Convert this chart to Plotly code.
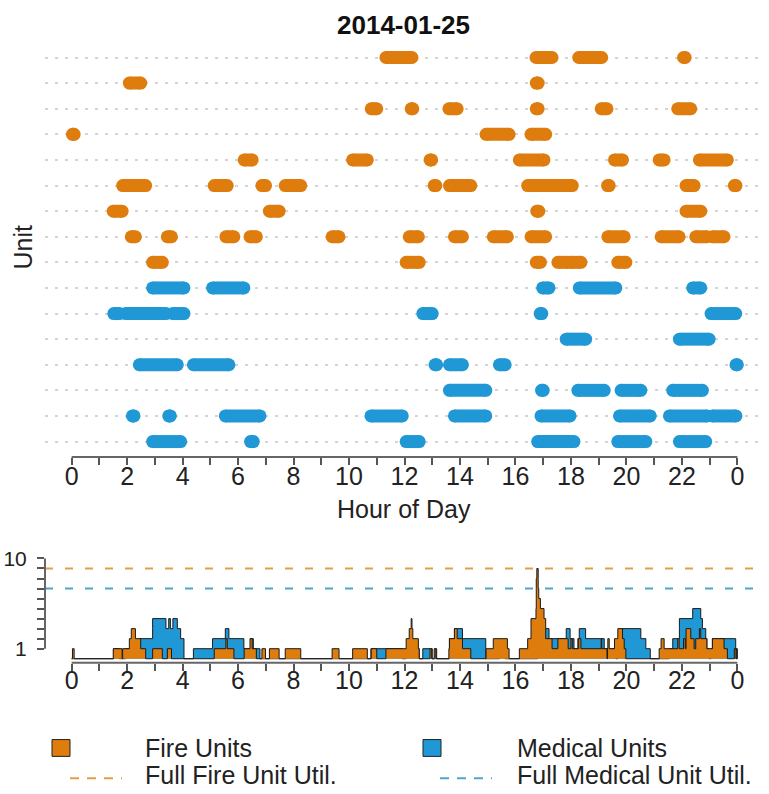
import plotly.graph_objects as go

W, H = 769, 794

# ---------------- data ----------------
hour_ticks = list(range(25))
hour_labels = [str(h % 24) if h % 2 == 0 else "" for h in hour_ticks]
util_ticks = list(range(1, 11))
util_labels = ["1"] + [""] * 8 + ["10"]

# busy intervals (start hour, end hour) per unit, top row first
F1 = [(11.33, 12.27), (16.74, 17.32), (18.28, 19.11), (22.06, 22.12)]
F2 = [(2.08, 2.49), (16.75, 16.82)]
F3 = [(10.80, 11.00), (12.24, 12.30), (13.60, 13.90), (16.75, 16.82), (19.09, 19.30), (21.85, 22.32)]
F4 = [(0.03, 0.09), (14.94, 15.77), (16.56, 17.09)]
F5 = [(6.22, 6.51), (10.13, 10.66), (12.92, 12.98), (16.14, 17.03), (19.57, 19.86), (21.18, 21.36), (22.63, 23.64)]
F6 = [(1.84, 2.67), (5.14, 5.61), (6.86, 6.99), (7.70, 8.26), (13.07, 13.13), (13.62, 14.39),
      (16.44, 18.05), (19.32, 19.38), (22.15, 22.44), (23.89, 23.95)]
F7 = [(1.50, 1.82), (7.13, 7.48), (16.77, 16.84), (22.15, 22.68)]
F8 = [(2.15, 2.30), (3.45, 3.60), (5.56, 5.85), (6.43, 6.66), (9.39, 9.64), (12.17, 12.50), (13.80, 14.09),
      (15.20, 15.71), (16.56, 17.09), (19.33, 19.92), (21.25, 21.90), (22.50, 22.90), (23.10, 23.52)]
F9 = [(2.92, 3.27), (12.06, 12.53), (16.75, 16.90), (17.53, 17.90), (18.00, 18.36), (19.69, 19.98)]

M1 = [(2.92, 4.05), (5.08, 6.21), (16.98, 17.21), (18.30, 19.62), (22.39, 22.68)]
M2 = [(1.52, 1.72), (1.95, 3.40), (3.65, 4.05), (12.66, 13.00), (16.89, 16.95), (23.05, 23.94)]
M3 = [(17.83, 18.53), (21.91, 22.98)]
M4 = [(2.44, 3.81), (4.39, 5.67), (13.10, 13.16), (13.62, 14.09), (15.42, 15.63), (23.95, 24.00)]
M5 = [(13.62, 14.93), (16.94, 17.00), (18.25, 19.20), (19.81, 20.52), (21.67, 22.74)]
M6 = [(2.19, 2.25), (3.50, 3.56), (5.54, 6.79), (10.79, 11.92), (13.80, 14.93), (16.92, 17.97),
      (19.75, 20.86), (21.55, 22.90), (23.10, 23.95)]
M7 = [(2.92, 3.93), (6.45, 6.55), (12.06, 12.53), (16.80, 18.11), (19.69, 20.70), (21.91, 22.86)]

fire_rows = [F1, F2, F3, F4, F5, F6, F7, F8, F9]
med_rows = [M1, M2, M3, M4, M5, M6, M7]

ORANGE = "rgb(222,124,14)"
BLUE = "rgb(32,152,214)"
ORANGE_DASH = "rgb(226,160,70)"
BLUE_DASH = "rgb(80,165,205)"
FONT = "Liberation Sans, Arial, Helvetica, sans-serif"


def X(px):
    return px / W


def Y(py):
    return 1 - py / H


def busy_profile(rows):
    events = []
    for segs in rows:
        for s, e in segs:
            events.append((s, 1))
            events.append((e, -1))
    events.sort()
    xs, ys, c = [0.0], [0], 0
    for t, d in events:
        c += d
        xs.append(t)
        ys.append(c)
    xs.append(24.0)
    ys.append(0)
    return xs, ys


fig = go.Figure()

all_rows = fire_rows + med_rows
n_rows = len(all_rows)
for i, segs in enumerate(all_rows):
    yv = n_rows - i
    col = ORANGE if i < len(fire_rows) else BLUE
    xs, ys = [], []
    for s, e in segs:
        xs += [s, e, None]
        ys += [yv, yv, None]
    fig.add_trace(go.Scatter(
        x=xs, y=ys, mode="lines+markers", xaxis="x", yaxis="y",
        line=dict(color=col, width=13),
        marker=dict(color=col, size=13),
        hoverinfo="skip", showlegend=False))

# bottom panel: number of busy units
mx, my = busy_profile(med_rows)
fx, fy = busy_profile(fire_rows)
fig.add_trace(go.Scatter(x=mx, y=my, xaxis="x2", yaxis="y2", mode="lines",
                         line=dict(color="#1a1a1a", width=1, shape="hv"),
                         fill="tozeroy", fillcolor=BLUE, showlegend=False))
fig.add_trace(go.Scatter(x=fx, y=fy, xaxis="x2", yaxis="y2", mode="lines",
                         line=dict(color="#1a1a1a", width=1, shape="hv"),
                         fill="tozeroy", fillcolor=ORANGE, showlegend=False))
fig.add_trace(go.Scatter(x=[-0.96, 24.96], y=[len(fire_rows)] * 2, xaxis="x2", yaxis="y2",
                         mode="lines", line=dict(color=ORANGE_DASH, width=2, dash="8px,12px"),
                         showlegend=False))
fig.add_trace(go.Scatter(x=[-0.96, 24.96], y=[len(med_rows)] * 2, xaxis="x2", yaxis="y2",
                         mode="lines", line=dict(color=BLUE_DASH, width=2, dash="8px,12px"),
                         showlegend=False))

xdom = [X(45), X(764)]
top_dom = [Y(453.5), Y(34.5)]
bot_dom = [Y(661.4), Y(552)]
tickfont = dict(family=FONT, size=25, color="#222")

fig.update_layout(
    width=W, height=H, margin=dict(l=0, r=0, t=0, b=0),
    plot_bgcolor="white", paper_bgcolor="white", showlegend=False,
    font=dict(family=FONT, color="#222"),
    xaxis=dict(domain=xdom, range=[-0.96, 24.96], anchor="y",
               tickmode="array", tickvals=hour_ticks, ticktext=hour_labels,
               ticks="outside", ticklen=7, tickwidth=1.5, tickcolor="#555",
               ticklabelstandoff=-10,
               showline=False, showgrid=False, zeroline=False, tickfont=tickfont),
    yaxis=dict(domain=top_dom, range=[0.4, n_rows + 0.6], anchor="x",
               tickmode="array", tickvals=list(range(1, n_rows + 1)), showticklabels=False,
               ticks="", showgrid=True, gridcolor="rgb(212,212,212)", gridwidth=1.5,
               griddash="3px,7px", zeroline=False, showline=False),
    xaxis2=dict(domain=xdom, range=[-0.96, 24.96], anchor="y2",
                tickmode="array", tickvals=hour_ticks, ticktext=hour_labels,
                ticks="outside", ticklen=7, tickwidth=1.5, tickcolor="#555",
                ticklabelstandoff=-12,
                showline=False, showgrid=False, zeroline=False, tickfont=tickfont),
    yaxis2=dict(domain=bot_dom, range=[-0.4, 10.4], anchor="x2",
                tickmode="array", tickvals=util_ticks, ticktext=util_labels,
                ticks="outside", ticklen=7, tickwidth=1.5, tickcolor="#555",
                ticklabelstandoff=6,
                showline=False, showgrid=False, zeroline=False,
                tickfont=dict(family=FONT, size=21, color="#222")),
)

shapes = [
    dict(type="line", xref="x", yref="paper", x0=0, x1=24, y0=top_dom[0], y1=top_dom[0],
         line=dict(color="#666", width=2)),
    dict(type="line", xref="x2", yref="paper", x0=0, x1=24, y0=bot_dom[0], y1=bot_dom[0],
         line=dict(color="#666", width=2)),
    dict(type="line", xref="paper", yref="y2", x0=xdom[0], x1=xdom[0], y0=1, y1=10,
         line=dict(color="#666", width=2)),
    # legend swatches
    dict(type="rect", xref="paper", yref="paper", x0=X(52), x1=X(70), y0=Y(756), y1=Y(739),
         fillcolor=ORANGE, line=dict(color="#222", width=1)),
    dict(type="rect", xref="paper", yref="paper", x0=X(423), x1=X(441), y0=Y(756), y1=Y(739),
         fillcolor=BLUE, line=dict(color="#222", width=1)),
    dict(type="line", xref="paper", yref="paper", x0=X(70), x1=X(122), y0=Y(778), y1=Y(778),
         line=dict(color=ORANGE_DASH, width=2, dash="9px,8px")),
    dict(type="line", xref="paper", yref="paper", x0=X(440), x1=X(492), y0=Y(778), y1=Y(778),
         line=dict(color=BLUE_DASH, width=2, dash="9px,8px")),
]
fig.update_layout(shapes=shapes)

ann = [
    dict(text="<b>2014-01-25</b>", x=X(404), y=Y(17), font=dict(size=26, color="#111")),
    dict(text="Unit", x=X(23), y=Y(242), textangle=-90, font=dict(size=25)),
    dict(text="Hour of Day", x=X(403.5), y=Y(506), font=dict(size=25)),
]
for a in ann:
    a.update(xref="paper", yref="paper", showarrow=False, xanchor="center", yanchor="middle")
legend_text = [
    ("Fire Units", 143, 748), ("Full Fire Unit Util.", 143, 775),
    ("Medical Units", 515, 748), ("Full Medical Unit Util.", 515, 775),
]
for t, px, py in legend_text:
    ann.append(dict(text=t, x=X(px), y=Y(py), xref="paper", yref="paper", showarrow=False,
                    xanchor="left", yanchor="middle", font=dict(size=25, color="#222")))
fig.update_layout(annotations=ann)

fig.write_html("out.html", config={"displayModeBar": False},
               post_script="document.body.style.margin='0';")
